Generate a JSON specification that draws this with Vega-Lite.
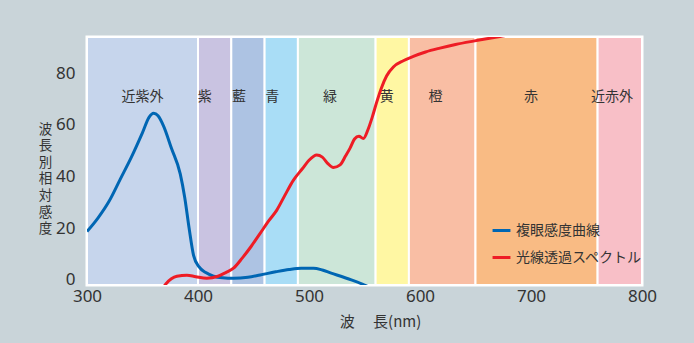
{
  "$schema": "https://vega.github.io/schema/vega-lite/v6.json",
  "width": 555,
  "height": 248,
  "autosize": "none",
  "padding": {"left": 87, "top": 37, "right": 52, "bottom": 58},
  "background": "#c9d4d9",
  "config": {
    "view": {"stroke": "#ffffff", "strokeWidth": 3},
    "font": "Noto Sans CJK JP"
  },
  "datasets": {
    "bands": [
      {"band": "近紫外", "start": 300, "end": 400, "color": "#c6d5ec"},
      {"band": "紫", "start": 400, "end": 430, "color": "#c9c3e1"},
      {"band": "藍", "start": 430, "end": 460, "color": "#adc3e3"},
      {"band": "青", "start": 460, "end": 490, "color": "#a9ddf6"},
      {"band": "緑", "start": 490, "end": 560, "color": "#cce6d8"},
      {"band": "黄", "start": 560, "end": 590, "color": "#fff7a3"},
      {"band": "橙", "start": 590, "end": 650, "color": "#f9bea4"},
      {"band": "赤", "start": 650, "end": 760, "color": "#f9bb84"},
      {"band": "近赤外", "start": 760, "end": 800, "color": "#f8bfc7"}
    ],
    "labels": [
      {"band": "近紫外", "lx": 350, "ly": 70.7},
      {"band": "紫", "lx": 406, "ly": 70.7},
      {"band": "藍", "lx": 437, "ly": 70.7},
      {"band": "青", "lx": 467, "ly": 70.7},
      {"band": "緑", "lx": 519, "ly": 70.7},
      {"band": "黄", "lx": 570, "ly": 70.7},
      {"band": "橙", "lx": 614, "ly": 70.7},
      {"band": "赤", "lx": 700, "ly": 70.7},
      {"band": "近赤外", "lx": 773, "ly": 70.7}
    ],
    "curves": [
      {"series": "複眼感度曲線", "nm": 300, "v": 18.7},
      {"series": "複眼感度曲線", "nm": 310, "v": 24},
      {"series": "複眼感度曲線", "nm": 320, "v": 30.5},
      {"series": "複眼感度曲線", "nm": 330, "v": 39},
      {"series": "複眼感度曲線", "nm": 340, "v": 47.5},
      {"series": "複眼感度曲線", "nm": 350, "v": 57},
      {"series": "複眼感度曲線", "nm": 356, "v": 63},
      {"series": "複眼感度曲線", "nm": 360, "v": 64.5},
      {"series": "複眼感度曲線", "nm": 364, "v": 63.5},
      {"series": "複眼感度曲線", "nm": 369, "v": 59.5},
      {"series": "複眼感度曲線", "nm": 376, "v": 51},
      {"series": "複眼感度曲線", "nm": 384, "v": 41},
      {"series": "複眼感度曲線", "nm": 388, "v": 32},
      {"series": "複眼感度曲線", "nm": 392, "v": 20},
      {"series": "複眼感度曲線", "nm": 396, "v": 9.5},
      {"series": "複眼感度曲線", "nm": 401, "v": 5},
      {"series": "複眼感度曲線", "nm": 407, "v": 2.8},
      {"series": "複眼感度曲線", "nm": 414, "v": 1.4},
      {"series": "複眼感度曲線", "nm": 422, "v": 0.8},
      {"series": "複眼感度曲線", "nm": 432, "v": 0.6},
      {"series": "複眼感度曲線", "nm": 445, "v": 1},
      {"series": "複眼感度曲線", "nm": 456, "v": 1.9},
      {"series": "複眼感度曲線", "nm": 470, "v": 3.1},
      {"series": "複眼感度曲線", "nm": 482, "v": 4},
      {"series": "複眼感度曲線", "nm": 493, "v": 4.5},
      {"series": "複眼感度曲線", "nm": 504, "v": 4.5},
      {"series": "複眼感度曲線", "nm": 512, "v": 3.8},
      {"series": "複眼感度曲線", "nm": 520, "v": 2.6},
      {"series": "複眼感度曲線", "nm": 530, "v": 1.2},
      {"series": "複眼感度曲線", "nm": 540, "v": -0.3},
      {"series": "複眼感度曲線", "nm": 550, "v": -2},
      {"series": "複眼感度曲線", "nm": 556, "v": -3.2},
      {"series": "光線透過スペクトル", "nm": 367, "v": -4},
      {"series": "光線透過スペクトル", "nm": 371, "v": -1.6},
      {"series": "光線透過スペクトル", "nm": 376, "v": 0.4},
      {"series": "光線透過スペクトル", "nm": 381, "v": 1.4},
      {"series": "光線透過スペクトル", "nm": 390, "v": 1.8},
      {"series": "光線透過スペクトル", "nm": 398, "v": 1.2},
      {"series": "光線透過スペクトル", "nm": 408, "v": 0.6},
      {"series": "光線透過スペクトル", "nm": 418, "v": 1.4},
      {"series": "光線透過スペクトル", "nm": 425, "v": 2.8},
      {"series": "光線透過スペクトル", "nm": 432, "v": 4.5},
      {"series": "光線透過スペクトル", "nm": 440, "v": 8.5},
      {"series": "光線透過スペクトル", "nm": 448, "v": 13},
      {"series": "光線透過スペクトル", "nm": 456, "v": 18},
      {"series": "光線透過スペクトル", "nm": 464, "v": 23},
      {"series": "光線透過スペクトル", "nm": 471, "v": 27},
      {"series": "光線透過スペクトル", "nm": 478, "v": 32.5},
      {"series": "光線透過スペクトル", "nm": 486, "v": 38.6},
      {"series": "光線透過スペクトル", "nm": 494, "v": 43},
      {"series": "光線透過スペクトル", "nm": 500, "v": 46.3},
      {"series": "光線透過スペクトル", "nm": 507, "v": 48.3},
      {"series": "光線透過スペクトル", "nm": 512, "v": 47.5},
      {"series": "光線透過スペクトル", "nm": 517, "v": 45},
      {"series": "光線透過スペクトル", "nm": 522, "v": 43.5},
      {"series": "光線透過スペクトル", "nm": 528, "v": 44.5},
      {"series": "光線透過スペクトル", "nm": 533, "v": 48},
      {"series": "光線透過スペクトル", "nm": 537, "v": 51},
      {"series": "光線透過スペクトル", "nm": 541, "v": 54.5},
      {"series": "光線透過スペクトル", "nm": 545, "v": 55.6},
      {"series": "光線透過スペクトル", "nm": 549, "v": 54.7},
      {"series": "光線透過スペクトル", "nm": 553, "v": 58},
      {"series": "光線透過スペクトル", "nm": 557, "v": 63},
      {"series": "光線透過スペクトル", "nm": 561, "v": 68.8},
      {"series": "光線透過スペクトル", "nm": 565, "v": 74},
      {"series": "光線透過スペクトル", "nm": 570, "v": 79},
      {"series": "光線透過スペクトル", "nm": 576, "v": 82.4},
      {"series": "光線透過スペクトル", "nm": 585, "v": 84.8},
      {"series": "光線透過スペクトル", "nm": 594, "v": 86.5},
      {"series": "光線透過スペクトル", "nm": 605, "v": 88.2},
      {"series": "光線透過スペクトル", "nm": 618, "v": 89.7},
      {"series": "光線透過スペクトル", "nm": 632, "v": 91.1},
      {"series": "光線透過スペクトル", "nm": 648, "v": 92.4},
      {"series": "光線透過スペクトル", "nm": 660, "v": 93.3},
      {"series": "光線透過スペクトル", "nm": 672, "v": 94.2},
      {"series": "光線透過スペクトル", "nm": 685, "v": 95.2}
    ]
  },
  "layer": [
    {
      "data": {"name": "bands"},
      "mark": {"type": "rect", "stroke": "#ffffff", "strokeWidth": 2},
      "encoding": {
        "x": {
          "field": "start", "type": "quantitative",
          "scale": {"domain": [300, 800], "nice": false, "zero": false},
          "axis": {
            "values": [300, 400, 500, 600, 700, 800],
            "grid": false, "domain": false, "ticks": false,
            "labelPadding": 3, "labelFontSize": 17, "labelColor": "#333333",
            "labelFont": "Noto Sans", "labelFlush": false,
            "title": "波　 長(nm)", "titleFontSize": 15, "titleFontWeight": "normal",
            "titleColor": "#333333", "titleX": 293, "titleY": 36,
            "titleAnchor": null, "titleAlign": "center", "titleBaseline": "middle"
          }
        },
        "x2": {"field": "end"},
        "color": {"field": "color", "type": "nominal", "scale": null}
      }
    },
    {
      "data": {"name": "labels"},
      "mark": {"type": "text", "fontSize": 14, "color": "#333333", "font": "Noto Sans CJK JP"},
      "encoding": {
        "x": {"field": "lx", "type": "quantitative"},
        "y": {"field": "ly", "type": "quantitative"},
        "text": {"field": "band"}
      }
    },
    {
      "data": {"name": "curves"},
      "mark": {"type": "line", "strokeWidth": 3, "interpolate": "monotone", "clip": true},
      "encoding": {
        "x": {"field": "nm", "type": "quantitative"},
        "y": {
          "field": "v", "type": "quantitative",
          "scale": {"domain": [-2, 94], "nice": false, "zero": false},
          "axis": {
            "values": [0, 20, 40, 60, 80],
            "grid": false, "domain": false, "ticks": false,
            "labelPadding": 12, "labelFontSize": 17, "labelColor": "#333333",
            "labelFont": "Noto Sans",
            "title": ["波", "長", "別", "相", "対", "感", "度"],
            "titleAngle": 0, "titleFontSize": 13.5, "titleFontWeight": "normal",
            "titleLineHeight": 16.6, "titleColor": "#333333",
            "titleX": -42, "titleY": 85, "titleAlign": "center",
            "titleBaseline": "top", "titleAnchor": null
          }
        },
        "color": {
          "field": "series", "type": "nominal",
          "sort": ["複眼感度曲線", "光線透過スペクトル"],
          "scale": {"domain": ["複眼感度曲線", "光線透過スペクトル"], "range": ["#0066b3", "#ee1c25"]},
          "legend": {
            "title": null, "orient": "none", "legendX": 404, "legendY": 183,
            "symbolType": "stroke", "symbolStrokeWidth": 3, "symbolSize": 320,
            "labelFontSize": 14, "labelColor": "#333333", "labelFont": "Noto Sans CJK JP",
            "rowPadding": 9, "labelOffset": 4, "labelLimit": 300
          }
        }
      }
    }
  ]
}
